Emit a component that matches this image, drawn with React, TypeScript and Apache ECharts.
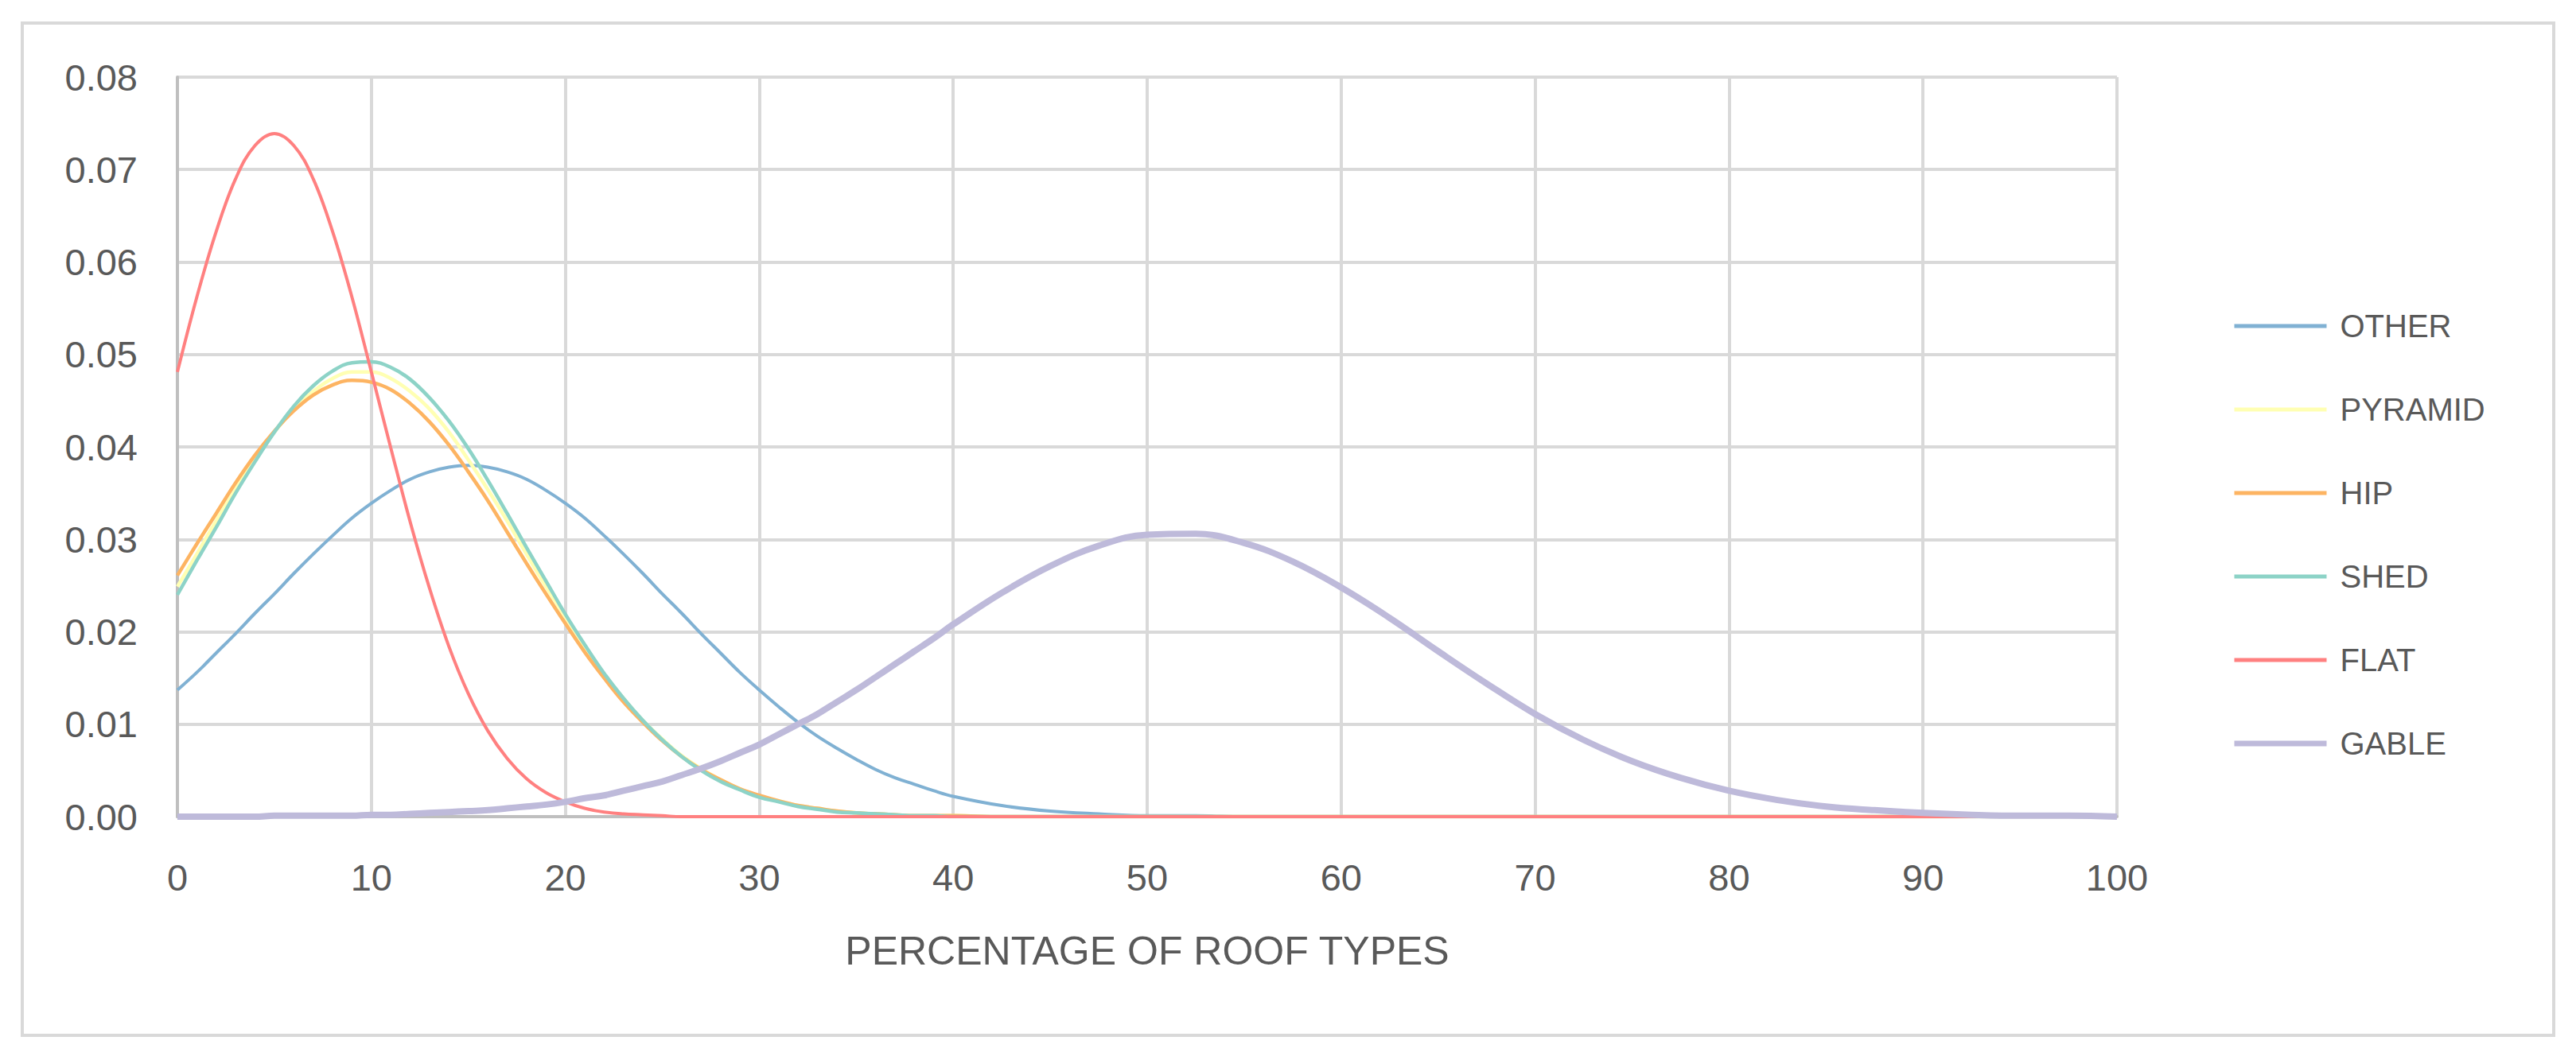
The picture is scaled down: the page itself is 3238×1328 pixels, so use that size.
import React, { useEffect, useRef } from "react";
import * as echarts from "echarts";

// x positions of the readings: every 1 from 0 to 40, then every 2.5 to 100
const xValues = [
  0, 1, 2, 3, 4, 5, 6, 7, 8, 9, 10, 11, 12, 13, 14, 15, 16, 17, 18, 19, 20,
  21, 22, 23, 24, 25, 26, 27, 28, 29, 30, 31, 32, 33, 34, 35, 36, 37, 38, 39, 40,
  42.5, 45, 47.5, 50, 52.5, 55, 57.5, 60, 62.5, 65, 67.5, 70, 72.5, 75, 77.5, 80,
  82.5, 85, 87.5, 90, 92.5, 95, 97.5, 100,
];

const xTicks = [0, 10, 20, 30, 40, 50, 60, 70, 80, 90, 100];
const yTicks = [0, 0.01, 0.02, 0.03, 0.04, 0.05, 0.06, 0.07, 0.08];

const seriesNames = ["OTHER", "PYRAMID", "HIP", "SHED", "FLAT", "GABLE"];

const other = [
  0.0137, 0.0156, 0.0177, 0.0198, 0.022, 0.0241, 0.0263, 0.0284, 0.0304, 0.0323, 0.0339,
  0.0353, 0.0365, 0.0373, 0.0378, 0.038, 0.0378, 0.0373, 0.0365, 0.0353, 0.0339,
  0.0323, 0.0304, 0.0284, 0.0263, 0.0241, 0.022, 0.0198, 0.0177, 0.0156, 0.0137,
  0.0119, 0.0102, 0.0087, 0.0074, 0.0062, 0.0051, 0.0042, 0.0035, 0.0028, 0.0022,
  0.0012, 0.0006, 0.0003, 0.0001, 0.0001, 0, 0, 0, 0, 0, 0, 0, 0, 0, 0, 0, 0, 0, 0, 0, 0, 0, 0, 0,
];
const pyramid = [
  0.0249, 0.0284, 0.032, 0.0354, 0.0386, 0.0416, 0.0441, 0.046, 0.0474, 0.0481, 0.0481,
  0.0474, 0.046, 0.0441, 0.0416, 0.0386, 0.0354, 0.032, 0.0284, 0.0249, 0.0216,
  0.0184, 0.0154, 0.0128, 0.0104, 0.0084, 0.0066, 0.0052, 0.004, 0.003, 0.0022,
  0.0017, 0.0012, 0.0009, 0.0006, 0.0004, 0.0003, 0.0002, 0.0001, 0.0001, 0.0001,
  0, 0, 0, 0, 0, 0, 0, 0, 0, 0, 0, 0, 0, 0, 0, 0, 0, 0, 0, 0, 0, 0, 0, 0,
];
const hip = [
  0.0261, 0.0295, 0.0328, 0.0361, 0.0391, 0.0417, 0.0439, 0.0456, 0.0467, 0.0472, 0.047,
  0.0462, 0.0447, 0.0427, 0.0402, 0.0373, 0.0342, 0.0308, 0.0274, 0.0241, 0.0209,
  0.0178, 0.015, 0.0124, 0.0102, 0.0082, 0.0065, 0.0051, 0.004, 0.003, 0.0023,
  0.0017, 0.0012, 0.0009, 0.0006, 0.0004, 0.0003, 0.0002, 0.0001, 0.0001, 0.0001,
  0, 0, 0, 0, 0, 0, 0, 0, 0, 0, 0, 0, 0, 0, 0, 0, 0, 0, 0, 0, 0, 0, 0, 0,
];
const shed = [
  0.024, 0.0277, 0.0313, 0.035, 0.0384, 0.0416, 0.0444, 0.0466, 0.0482, 0.0491, 0.0492,
  0.0486, 0.0473, 0.0453, 0.0428, 0.0398, 0.0364, 0.0328, 0.0291, 0.0255, 0.0219,
  0.0186, 0.0155, 0.0128, 0.0104, 0.0083, 0.0065, 0.005, 0.0038, 0.0029, 0.0021,
  0.0016, 0.0011, 0.0008, 0.0005, 0.0004, 0.0003, 0.0002, 0.0001, 0.0001, 0,
  0, 0, 0, 0, 0, 0, 0, 0, 0, 0, 0, 0, 0, 0, 0, 0, 0, 0, 0, 0, 0, 0, 0, 0,
];
const flat = [
  0.0481, 0.0562, 0.0633, 0.069, 0.0726, 0.0739, 0.0726, 0.069, 0.0633, 0.0562, 0.0481,
  0.0399, 0.0319, 0.0247, 0.0184, 0.0133, 0.0093, 0.0063, 0.0041, 0.0026, 0.0016,
  0.0009, 0.0005, 0.0003, 0.0002, 0.0001, 0, 0, 0, 0, 0,
  0, 0, 0, 0, 0, 0, 0, 0, 0, 0,
  0, 0, 0, 0, 0, 0, 0, 0, 0, 0, 0, 0, 0, 0, 0, 0, 0, 0, 0, 0, 0, 0, 0, 0,
];
const gable = [
  0, 0, 0, 0, 0, 0.0001, 0.0001, 0.0001, 0.0001, 0.0001, 0.0002,
  0.0002, 0.0003, 0.0004, 0.0005, 0.0006, 0.0007, 0.0009, 0.0011, 0.0013, 0.0016,
  0.002, 0.0023, 0.0028, 0.0033, 0.0038, 0.0045, 0.0052, 0.006, 0.0069, 0.0078,
  0.0089, 0.01, 0.0111, 0.0124, 0.0137, 0.0151, 0.0165, 0.0179, 0.0193, 0.0208,
  0.0242, 0.0271, 0.0293, 0.0305, 0.0306, 0.0296, 0.0276, 0.0248, 0.0215, 0.0179, 0.0144,
  0.0111, 0.0083, 0.006, 0.0042, 0.0028, 0.0018, 0.0011, 0.0007, 0.0004, 0.0002, 0.0001,
  0.0001, 0,
];

const seriesValues = [other, pyramid, hip, shed, flat, gable];
const seriesColors = ["#80B1D3", "#FFFFB3", "#FDB462", "#8DD3C7", "#FF8080", "#BEBADA"];
const seriesWidths = [4, 4.5, 4.5, 4.5, 4, 8];
const legendWidths = [5, 5, 5, 5, 5, 7];

const FONT = "Liberation Sans";
const TEXT = "#595959";

export default function App() {
  const ref = useRef<HTMLDivElement>(null);
  useEffect(() => {
    const chart = echarts.init(ref.current!, null, { renderer: "svg" });
    chart.setOption({
      animation: false,
      backgroundColor: "#ffffff",
      graphic: [
        {
          type: "rect",
          shape: { x: 28, y: 29, width: 3182, height: 1273 },
          style: { fill: "none", stroke: "#d9d9d9", lineWidth: 4 },
          z: -1,
        },
      ],
      grid: { left: 223, right: 577, top: 97, bottom: 301, containLabel: false },
      legend: {
        orient: "vertical",
        left: 2800,
        top: 385,
        itemWidth: 116,
        itemHeight: 14,
        itemGap: 65,
        data: seriesNames.map((name, i) => ({
          name,
          itemStyle: { opacity: 0, borderWidth: 0 },
          lineStyle: { color: seriesColors[i], width: legendWidths[i] },
        })),
        itemStyle: { opacity: 0, borderWidth: 0 },
        textStyle: { fontSize: 40, color: TEXT, fontFamily: FONT, lineHeight: 40, padding: [0, 0, 0, 12] },
      },
      xAxis: {
        type: "value",
        min: xTicks[0],
        max: xTicks[xTicks.length - 1],
        interval: xTicks[1] - xTicks[0],
        name: "PERCENTAGE OF ROOF TYPES",
        nameLocation: "middle",
        nameGap: 144,
        nameTextStyle: { fontSize: 50, color: TEXT, fontFamily: FONT },
        axisLine: { show: true, lineStyle: { color: "#bfbfbf", width: 4 } },
        axisTick: { show: false },
        axisLabel: { fontSize: 47, color: TEXT, fontFamily: FONT, margin: 53 },
        splitLine: { show: true, lineStyle: { color: "#d9d9d9", width: 4 } },
      },
      yAxis: {
        type: "value",
        min: yTicks[0],
        max: yTicks[yTicks.length - 1],
        interval: 0.01,
        axisLine: { show: true, lineStyle: { color: "#bfbfbf", width: 4 } },
        axisTick: { show: false },
        axisLabel: {
          fontSize: 47,
          color: TEXT,
          fontFamily: FONT,
          margin: 50,
          formatter: (v: number) => v.toFixed(2),
        },
        splitLine: { show: true, lineStyle: { color: "#d9d9d9", width: 4 } },
      },
      series: seriesNames.map((name, i) => ({
        name,
        type: "line",
        smooth: 0.4,
        symbol: "none",
        showSymbol: false,
        color: seriesColors[i],
        lineStyle: { color: seriesColors[i], width: seriesWidths[i] },
        data: xValues.map((x, j) => [x, seriesValues[i][j]]),
      })),
    });
    return () => chart.dispose();
  }, []);
  return (
    <div
      ref={ref}
      style={{ position: "fixed", left: 0, top: 0, width: 3238, height: 1328, background: "#fff" }}
    />
  );
}
